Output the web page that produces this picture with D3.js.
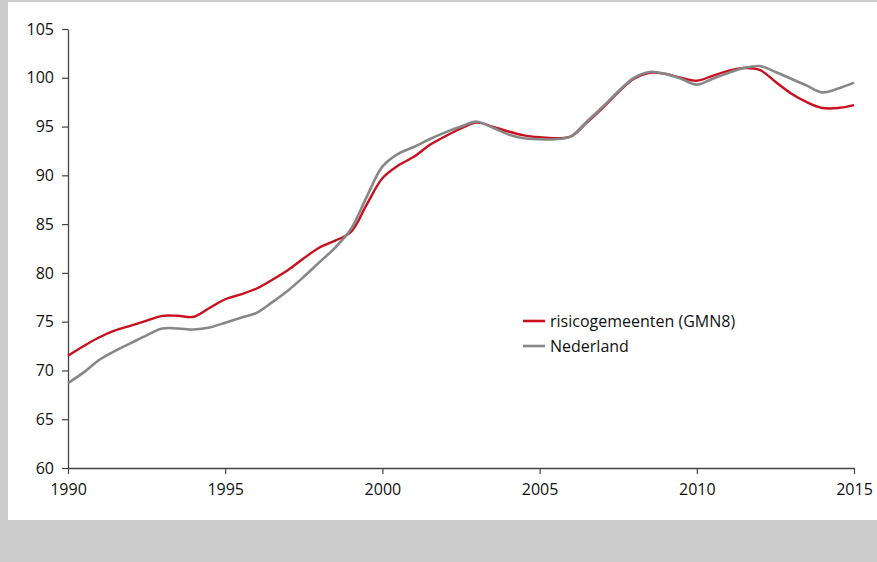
<!DOCTYPE html>
<html>
<head>
<meta charset="utf-8">
<script src="https://cdn.jsdelivr.net/npm/d3@7.8.5/dist/d3.min.js"></script>
<style>
  body { margin: 0; background: #cccccc; }
  svg { display: block; }
  .tick text { font-family: "Open Sans", sans-serif; font-size: 16px; fill: #111; }
  .legend text { font-family: "Open Sans", sans-serif; font-size: 16px; fill: #111; }
</style>
</head>
<body>
<div id="chart"></div>
<script>
// half-yearly index values
const years = [
  1990, 1990.5, 1991, 1991.5, 1992, 1992.5, 1993, 1993.5, 1994, 1994.5,
  1995, 1995.5, 1996, 1996.5, 1997, 1997.5, 1998, 1998.5, 1999, 1999.5,
  2000, 2000.5, 2001, 2001.5, 2002, 2002.5, 2003, 2003.5, 2004, 2004.5,
  2005, 2005.5, 2006, 2006.5, 2007, 2007.5, 2008, 2008.5, 2009, 2009.5,
  2010, 2010.5, 2011, 2011.5, 2012, 2012.5, 2013, 2013.5, 2014, 2014.5, 2015
];
const risico = [
  71.5, 72.5, 73.4, 74.1, 74.6, 75.1, 75.6, 75.6, 75.5, 76.4,
  77.3, 77.8, 78.4, 79.3, 80.3, 81.5, 82.6, 83.3, 84.2, 87.0,
  89.7, 91.0, 91.9, 93.1, 94.0, 94.8, 95.4, 95.0, 94.5, 94.1,
  93.9, 93.8, 94.0, 95.4, 96.9, 98.5, 99.9, 100.5, 100.4, 100.0,
  99.7, 100.2, 100.7, 101.0, 100.8, 99.6, 98.4, 97.5, 96.9, 96.9, 97.2
];
const nederland = [
  68.7, 69.8, 71.1, 72.0, 72.8, 73.6, 74.3, 74.3, 74.2, 74.4,
  74.9, 75.4, 75.9, 77.0, 78.2, 79.6, 81.1, 82.6, 84.5, 87.8,
  90.9, 92.2, 92.9, 93.7, 94.4, 95.0, 95.5, 94.9, 94.2, 93.8,
  93.7, 93.7, 94.0, 95.5, 97.0, 98.6, 100.0, 100.6, 100.4, 99.9,
  99.3, 99.9, 100.5, 101.0, 101.2, 100.6, 99.9, 99.2, 98.5, 98.9, 99.5
];
const xTicks = [1990, 1995, 2000, 2005, 2010, 2015];
const yTicks = [60, 65, 70, 75, 80, 85, 90, 95, 100, 105];
const seriesNames = ['risicogemeenten (GMN8)', 'Nederland'];

const width = 877, height = 562;
const margin = { left: 68, right: 23, top: 29, bottom: 94 };
const colors = ['#c8101e', '#878787'];

const svg = d3.select('#chart')
  .append('svg')
  .attr('width', width)
  .attr('height', height);

// panel background
svg.append('rect')
  .attr('x', 8).attr('y', 2)
  .attr('width', width - 8).attr('height', 518)
  .attr('fill', '#fff');

const x = d3.scaleLinear()
  .domain([1990, 2015])
  .range([margin.left, width - margin.right]);

const y = d3.scaleLinear()
  .domain([60, 105])
  .range([height - margin.bottom, margin.top]);

const xAxis = svg.append('g')
  .attr('transform', `translate(0,${height - margin.bottom})`)
  .call(d3.axisBottom(x).tickValues(xTicks).tickFormat(d3.format('d')).tickSize(6).tickSizeOuter(0).tickPadding(10));

const yAxis = svg.append('g')
  .attr('transform', `translate(${margin.left},0)`)
  .call(d3.axisLeft(y).tickValues(yTicks).tickSize(6).tickSizeOuter(0).tickPadding(8));

[xAxis, yAxis].forEach(g => {
  g.select('.domain').attr('stroke', '#444').attr('stroke-width', 1.3);
  g.selectAll('.tick line').attr('stroke', '#444').attr('stroke-width', 1.2);
});

const line = d3.line()
  .x((d, i) => x(years[i]))
  .y(d => y(d))
  .curve(d3.curveCatmullRom.alpha(0.5));

// red first, grey on top as in the reference
svg.append('path')
  .datum(risico)
  .attr('fill', 'none')
  .attr('stroke', colors[0])
  .attr('stroke-width', 2.4)
  .attr('d', line);

svg.append('path')
  .datum(nederland)
  .attr('fill', 'none')
  .attr('stroke', colors[1])
  .attr('stroke-width', 2.6)
  .attr('d', line);

const legend = svg.append('g')
  .attr('class', 'legend')
  .attr('transform', 'translate(523,321)');

seriesNames.forEach((name, i) => {
  const row = legend.append('g').attr('transform', `translate(0,${i * 25})`);
  row.append('line')
    .attr('x1', 0).attr('x2', 22)
    .attr('y1', 0).attr('y2', 0)
    .attr('stroke', colors[i])
    .attr('stroke-width', 2.6);
  row.append('text')
    .attr('x', 27)
    .attr('y', 0)
    .attr('dy', '0.35em')
    .text(name);
});
</script>
</body>
</html>
